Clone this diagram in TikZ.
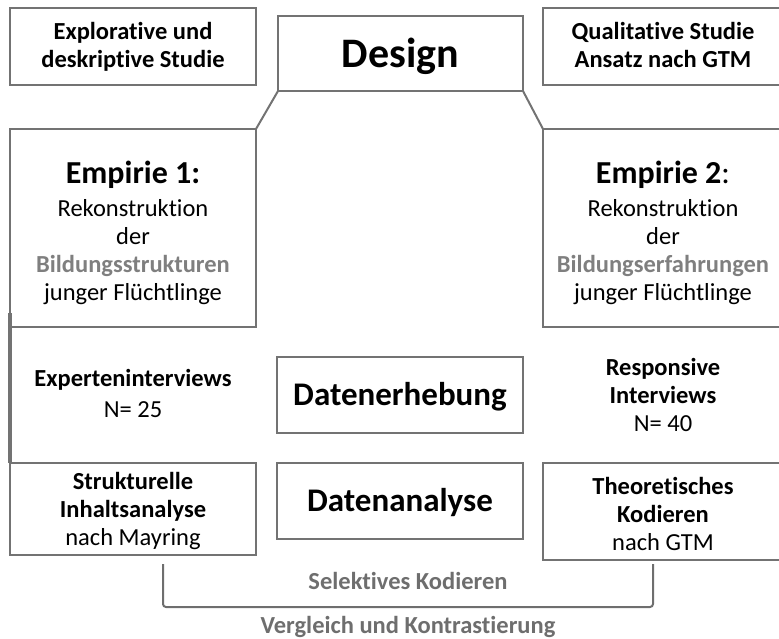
\documentclass[tikz,border=0pt]{standalone}
\usepackage{fontspec}
\setmainfont{Carlito}[Ligatures=NoCommon]
\usetikzlibrary{calc}
\definecolor{linegray}{RGB}{115,115,115}
\definecolor{wordgray}{RGB}{127,127,127}
\definecolor{notegray}{RGB}{110,110,110}

\begin{document}
\begin{tikzpicture}[x=1pt,y=-1pt,
  box/.style={draw=linegray,line width=2pt,outer sep=0pt,inner sep=0pt,align=center,
    text depth=0pt,font=\fontsize{24.5}{28}\selectfont},
  plain/.style={inner sep=0pt,align=center,text depth=0pt,anchor=south,
    font=\fontsize{24.5}{28}\selectfont},
  head/.style={font=\fontsize{33}{40}\selectfont\bfseries},
  note/.style={plain,text=notegray,font=\fontsize{24.5}{28}\selectfont\bfseries},
  bracket/.style={draw=notegray,line width=2pt,rounded corners=3pt}]
  \useasboundingbox (0,0) rectangle (779,639);
  \clip (0,0) rectangle (779,639);

  % top row
  \node[box,minimum width=246pt,minimum height=77pt,text height=43pt] (explo) at (133,46.5)
    {\textbf{Explorative und}\\\textbf{deskriptive Studie}};
  \node[box,minimum width=245pt,minimum height=75pt,text height=29pt,
    font=\fontsize{42}{48}\selectfont\bfseries] (design) at (400.5,53.5) {Design};
  \node[box,minimum width=240pt,minimum height=77pt,text height=43pt] (quali) at (663,46.5)
    {\textbf{Qualitative Studie}\\\textbf{Ansatz nach GTM}};

  % Empirie
  \node[box,minimum width=246pt,minimum height=198pt,text height=144pt] (emp1) at (133,228)
    {{\fontsize{32}{34}\selectfont\textbf{Empirie 1:}}\\[5pt]Rekonstruktion\\der\\
     \textcolor{wordgray}{\textbf{Bildungsstrukturen}}\\junger Flüchtlinge};
  \node[box,minimum width=240pt,minimum height=198pt,text height=144pt] (emp2) at (663,228)
    {{\fontsize{32}{34}\selectfont\textbf{Empirie 2}:}\\[5pt]Rekonstruktion\\der\\
     \textcolor{wordgray}{\textbf{Bildungserfahrungen}}\\junger Flüchtlinge};

  \draw[linegray,line width=2pt] (design.south west) -- (emp1.north east);
  \draw[linegray,line width=2pt] (design.south east) -- (emp2.north west);

  % Datenerhebung
  \node[plain] (expert) at (133,418) {\textbf{Experteninterviews}\\[3pt]N= 25};
  \node[box,minimum width=246pt,minimum height=76pt,text height=21pt,head] (erheb) at (400,395)
    {Datenerhebung};
  \node[plain] (respons) at (663,432) {\textbf{Responsive}\\\textbf{Interviews}\\N= 40};

  % Datenanalyse
  \node[box,minimum width=246pt,minimum height=92pt,text height=72pt] (strukt) at (133,509)
    {\textbf{Strukturelle}\\\textbf{Inhaltsanalyse}\\nach Mayring};
  \node[box,minimum width=246pt,minimum height=76pt,text height=21pt,head] (analyse) at (400,501)
    {Datenanalyse};
  \node[box,minimum width=240pt,minimum height=97pt,text height=77pt] (theo) at (663,511.5)
    {\textbf{Theoretisches}\\\textbf{Kodieren}\\nach GTM};

  \draw[linegray,line width=4pt] ([yshift=14pt]emp1.south west) -- (strukt.north west);

  % Klammer unten
  \coordinate (brl) at ([xshift=30pt,yshift=-9pt]strukt.south);
  \coordinate (brr) at ([xshift=-10pt,yshift=-4pt]theo.south);
  \draw[bracket] (brl) -- ++(0,43) -| (brr);
  \node[note] (selekt) at (408,590) {Selektives Kodieren};
  \node[note] (vergl) at (408,634) {Vergleich und Kontrastierung};
\end{tikzpicture}
\end{document}
